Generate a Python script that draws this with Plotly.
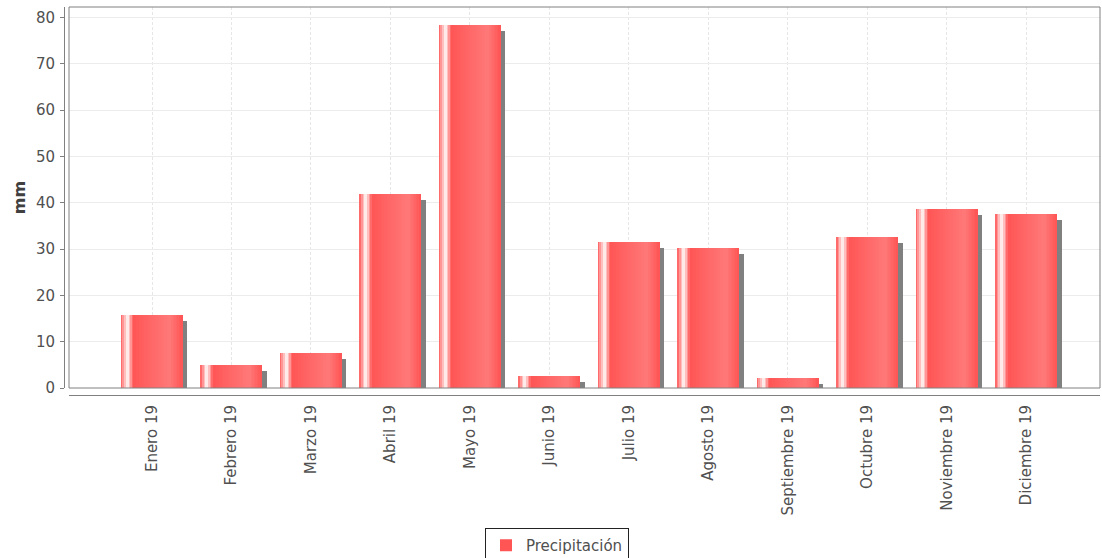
import plotly.graph_objects as go

# ---- data ----
categories = ["Enero 19", "Febrero 19", "Marzo 19", "Abril 19", "Mayo 19", "Junio 19",
              "Julio 19", "Agosto 19", "Septiembre 19", "Octubre 19", "Noviembre 19", "Diciembre 19"]
precip_mm = [15.8, 5.0, 7.5, 42.0, 78.5, 2.5, 31.5, 30.3, 2.1, 32.7, 38.6, 37.6]
series_name = "Precipitación"
y_title = "mm"
y_ticks = [0, 10, 20, 30, 40, 50, 60, 70, 80]

# ---- style ----
FONT = "DejaVu Sans, Liberation Sans, Arial, sans-serif"
TXT = "#505050"
C0 = (255, 85, 85)
C1 = (255, 121, 121)
WHITE = (255, 255, 255)
BAR_W = 0.767
BAR_OFF = -0.384
SH_DX = 0.063
SH_DY = 1.3
N_SLICES = 40

def lerp(a, b, t):
    return tuple(round(a[i] + (b[i] - a[i]) * t) for i in range(3))

def grad(t):
    if t < 0.1:
        c = lerp(C0, WHITE, t / 0.1)
    elif t < 0.2:
        c = lerp(WHITE, C0, (t - 0.1) / 0.1)
    elif t < 0.8:
        c = lerp(C0, C1, (t - 0.2) / 0.6)
    else:
        c = lerp(C1, C0, (t - 0.8) / 0.2)
    return "rgb(%d,%d,%d)" % c

xs = list(range(len(categories)))
fig = go.Figure()

# shadow
fig.add_trace(go.Bar(x=xs, y=[max(v - SH_DY, 0) for v in precip_mm], width=BAR_W,
                     offset=BAR_OFF + SH_DX, marker=dict(color="#808080", line=dict(width=0)),
                     showlegend=False, hoverinfo="skip"))
# base bar (legend)
fig.add_trace(go.Bar(x=xs, y=precip_mm, width=BAR_W, offset=BAR_OFF, name=series_name,
                     marker=dict(color="rgb(255,85,85)", line=dict(width=0)),
                     hovertemplate="%{y} mm<extra></extra>"))
# gradient slices
sw = BAR_W / N_SLICES
for k in range(N_SLICES):
    t = (k + 0.5) / N_SLICES
    fig.add_trace(go.Bar(x=xs, y=precip_mm, width=sw * 1.15, offset=BAR_OFF + k * sw,
                         marker=dict(color=grad(t), line=dict(width=0)),
                         showlegend=False, hoverinfo="skip"))

W, H = 1102, 558
L, R, T, B = 64, 2, 7, 163
pw = W - L - R
ph = H - T - B
xdom0 = 5 / pw
ydom0 = 7 / ph

fig.update_layout(
    width=W, height=H,
    margin=dict(l=L, r=R, t=T, b=B, pad=0, autoexpand=False),
    paper_bgcolor="white", plot_bgcolor="white",
    barmode="overlay", bargap=0,
    font=dict(family=FONT, size=15, color=TXT),
    xaxis=dict(
        domain=[xdom0, 1], anchor="free", position=0, automargin=False,
        range=[-1.044, 11.925], tickmode="array", tickvals=xs, ticktext=categories,
        tickangle=-90, ticks="", showline=True, linecolor="#808080", linewidth=1,
        showgrid=True, gridcolor="#e6e6e6", griddash="3px,2px", gridwidth=1,
        tickfont=dict(family=FONT, size=15, color=TXT), ticklabelstandoff=3,
        zeroline=False,
    ),
    yaxis=dict(
        domain=[ydom0, 1], anchor="free", position=0, automargin=False,
        range=[0, 82.3], tickmode="array", tickvals=y_ticks,
        ticks="outside", ticklen=4, tickcolor="#808080", tickwidth=1,
        showline=True, linecolor="#808080", linewidth=1,
        showgrid=True, gridcolor="#ececec", gridwidth=1, zeroline=False,
        tickfont=dict(family=FONT, size=15, color=TXT), ticklabelstandoff=2,
        title=dict(text="<b>" + y_title + "</b>", standoff=5,
                   font=dict(family=FONT, size=16, color="#404040")),
    ),
    legend=dict(
        orientation="h", x=(557 - L) / pw, xanchor="center",
        y=(395 - 528) / ph, yanchor="top",
        bordercolor="#222222", borderwidth=1, bgcolor="white",
        font=dict(family=FONT, size=15, color=TXT),
        itemwidth=30, tracegroupgap=0,
    ),
    shapes=[dict(type="rect", xref="x domain", yref="y domain", x0=0, x1=1, y0=0, y1=1,
                 line=dict(color="#808080", width=1), fillcolor="rgba(0,0,0,0)", layer="above")],
)

fig.write_html("out.html", config={"displayModeBar": False},
               post_script="document.body.style.margin='0';document.body.style.overflow='hidden';")
